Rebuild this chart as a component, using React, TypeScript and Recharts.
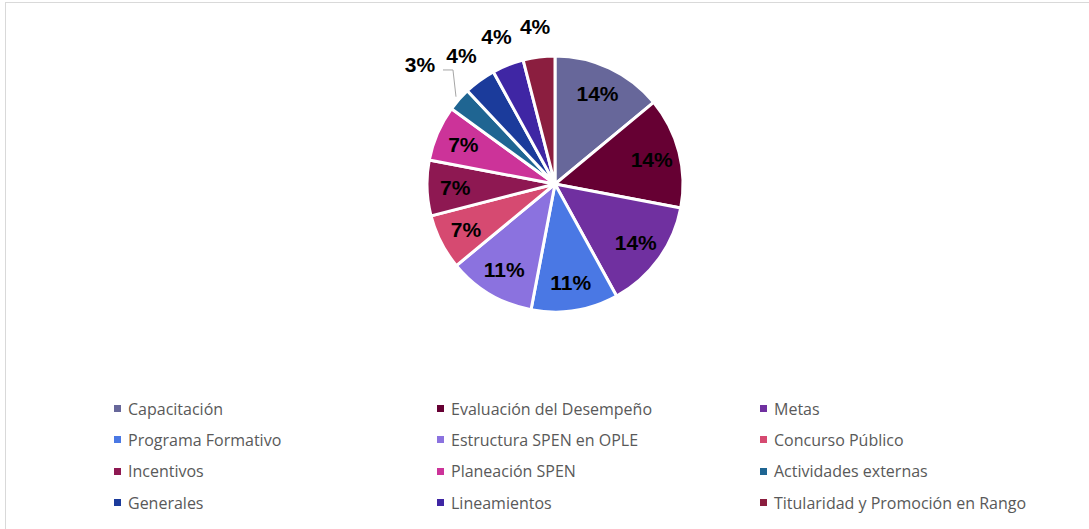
import React from 'react';
import { PieChart, Pie, Cell, Legend } from 'recharts';

const categories = [
  'Capacitación',
  'Evaluación del Desempeño',
  'Metas',
  'Programa Formativo',
  'Estructura SPEN en OPLE',
  'Concurso Público',
  'Incentivos',
  'Planeación SPEN',
  'Actividades externas',
  'Generales',
  'Lineamientos',
  'Titularidad y Promoción en Rango',
];

const percentages = [14, 14, 14, 11, 11, 7, 7, 7, 3, 4, 4, 4];

const colors = [
  '#67679A',
  '#660033',
  '#7030A0',
  '#4A78E4',
  '#8B72DF',
  '#D64A71',
  '#8E1852',
  '#CC3399',
  '#1F6592',
  '#1B3B9B',
  '#3F26A4',
  '#8B1E3F',
];

const data = categories.map((name, i) => ({ name, value: percentages[i] }));

const RAD = Math.PI / 180;

const renderLabel = (props: any) => {
  const { cx, cy, midAngle, outerRadius, value, index } = props;
  const cos = Math.cos(-midAngle * RAD);
  const sin = Math.sin(-midAngle * RAD);
  const style = { fontFamily: '"Liberation Sans", Arial, sans-serif', fontSize: 21, fontWeight: 700 };

  // slices big enough get the label inside
  if (value >= 7) {
    const r = outerRadius * 0.78;
    return (
      <text key={index} x={cx + r * cos} y={cy + r * sin} textAnchor="middle" dominantBaseline="central" fill="#000" style={style}>
        {value}%
      </text>
    );
  }

  if (value < 4) {
    // pushed further out, with a leader line
    const r = outerRadius + 52;
    const lx = cx + r * cos;
    const ly = cy + r * sin;
    const sx = cx + (outerRadius + 4) * cos;
    const sy = cy + (outerRadius + 4) * sin;
    return (
      <g key={index}>
        <polyline points={`${sx},${sy} ${lx + 33},${ly + 5} ${lx + 23},${ly + 5}`} fill="none" stroke="#A6A6A6" strokeWidth={1} />
        <text x={lx} y={ly} textAnchor="middle" dominantBaseline="central" fill="#000" style={style}>
          {value}%
        </text>
      </g>
    );
  }

  const r = outerRadius + 31;
  return (
    <text key={index} x={cx + r * cos} y={cy + r * sin} textAnchor="middle" dominantBaseline="central" fill="#000" style={style}>
      {value}%
    </text>
  );
};

const renderLegend = () => (
  <div
    style={{
      display: 'grid',
      gridTemplateColumns: '323px 323px 323px',
      rowGap: 0,
      paddingLeft: 114,
      fontFamily: '"Open Sans", sans-serif',
      fontSize: 16,
      color: '#595959',
    }}
  >
    {categories.map((name, i) => (
      <div key={name} style={{ display: 'flex', alignItems: 'center', height: 31.3 }}>
        <span style={{ width: 7, height: 7, background: colors[i], display: 'inline-block', marginRight: 7 }} />
        <span>{name}</span>
      </div>
    ))}
  </div>
);

export default function App() {
  return (
    <div style={{ position: 'absolute', left: 0, top: 0, width: 1089, height: 529, overflow: 'hidden', background: '#fff' }}>
      <div style={{ position: 'absolute', left: 5, top: 2, width: 1200, height: 700, border: '1px solid #D9D9D9' }} />
      <PieChart width={1089} height={529} margin={{ top: 0, right: 0, bottom: 0, left: 0 }} style={{ position: 'absolute', left: 0, top: 0 }}>
        <Pie
          data={data}
          dataKey="value"
          nameKey="name"
          cx={555}
          cy={184}
          outerRadius={128}
          startAngle={90}
          endAngle={-270}
          stroke="#fff"
          strokeWidth={3}
          label={renderLabel}
          labelLine={false}
          isAnimationActive={false}
        >
          {data.map((d, i) => (
            <Cell key={d.name} fill={colors[i]} />
          ))}
        </Pie>
        <Legend content={renderLegend} wrapperStyle={{ top: 393, left: 0, width: 1089 }} />
      </PieChart>
    </div>
  );
}
